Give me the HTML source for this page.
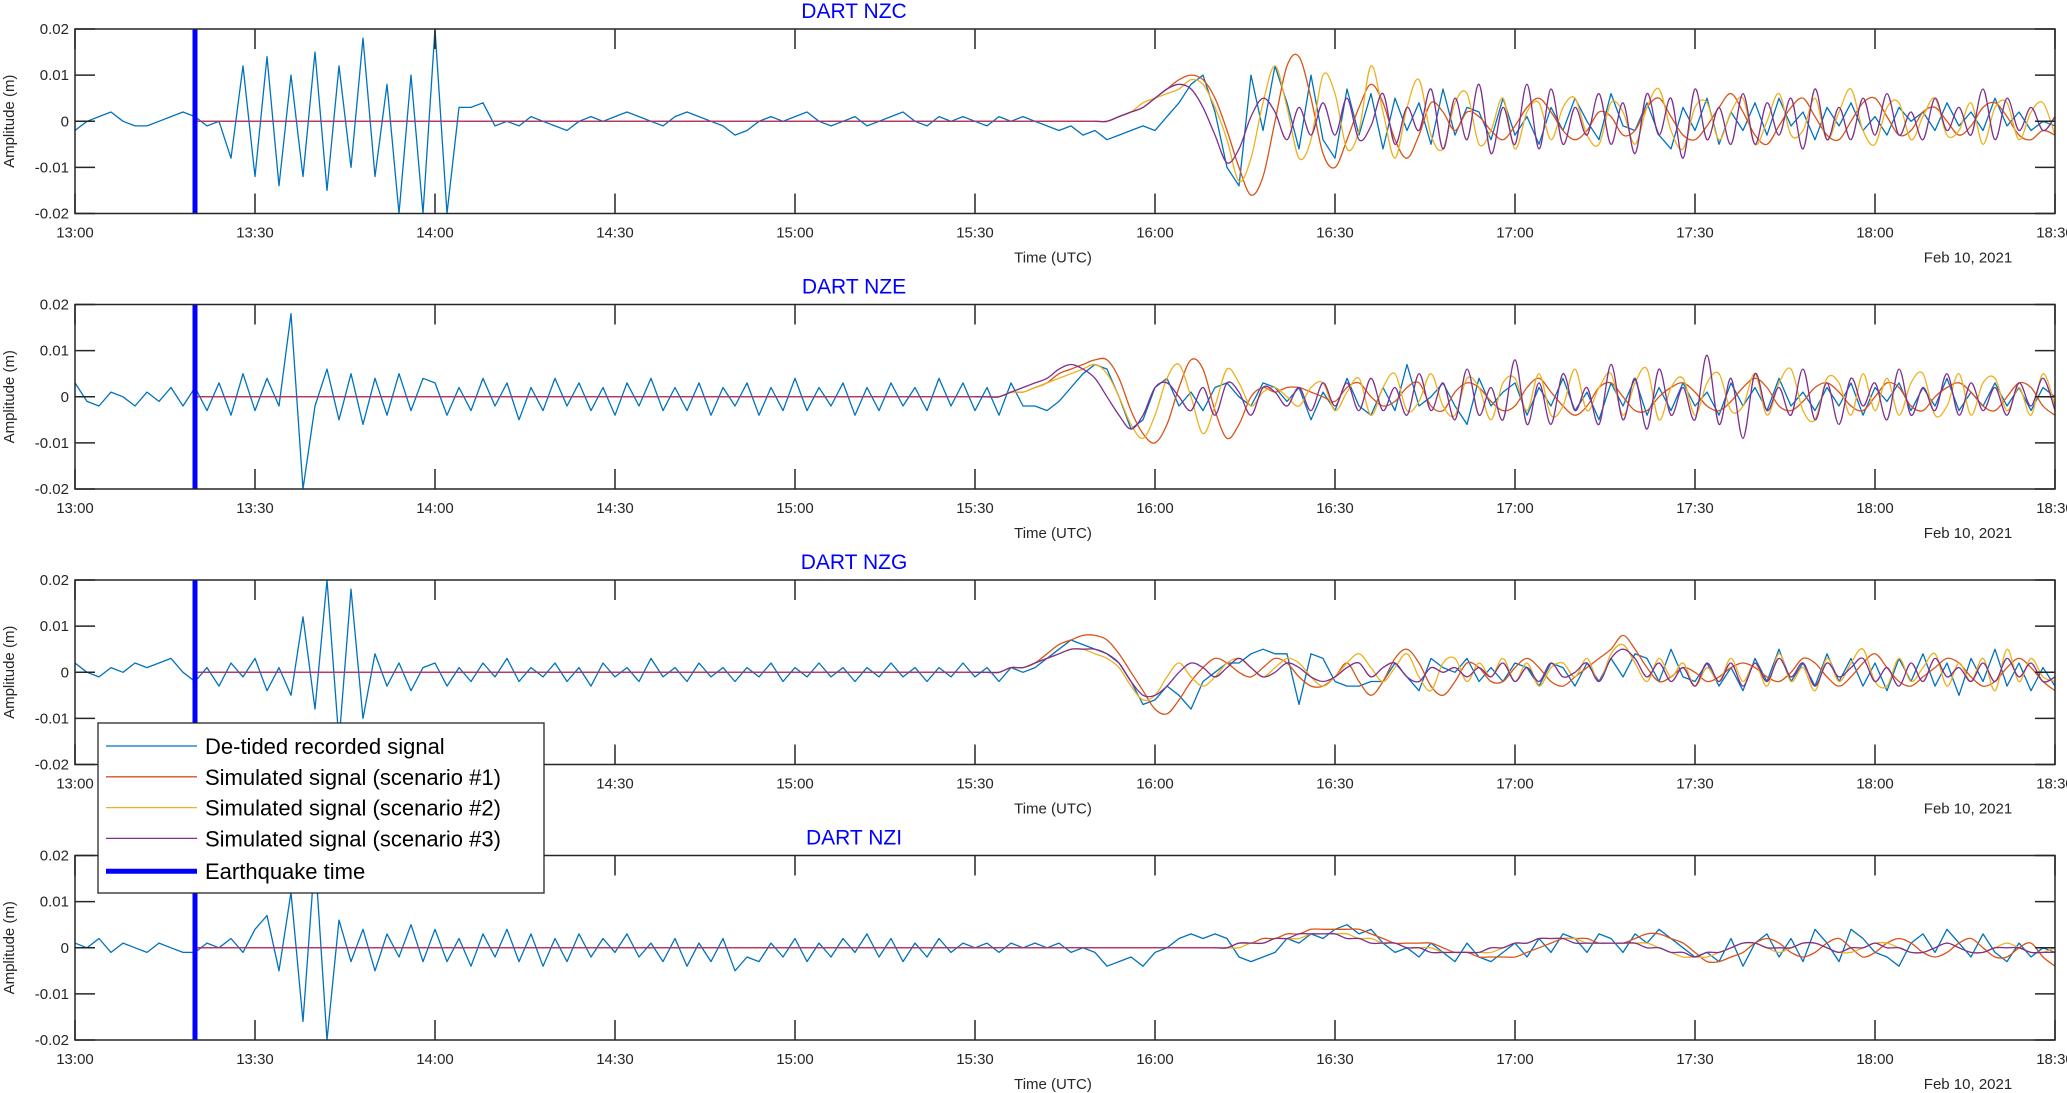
<!DOCTYPE html>
<html>
<head>
<meta charset="utf-8">
<style>
html,body{margin:0;padding:0;background:#fff;}
svg{display:block;font-family:"Liberation Sans",sans-serif;}
</style>
</head>
<body>
<svg id="fig" width="2067" height="1093" viewBox="0 0 2067 1093" xmlns="http://www.w3.org/2000/svg"></svg>
<script>
// ---- shared axis data ----
const xTickLabels = ["13:00","13:30","14:00","14:30","15:00","15:30","16:00","16:30","17:00","17:30","18:00","18:30"];
const yTickValues = [-0.02,-0.01,0,0.01,0.02];
const yTickLabels = ["-0.02","-0.01","0","0.01","0.02"];
const quakeMinute = 20; // 13:20 UTC
const stepMin = 2; // sample spacing, minutes
const stationNames = ["DART NZC","DART NZE","DART NZG","DART NZI"];

// ---- values in millimetres (x0.001 m), sampled every 2 min ----
// NZC
const nzcRec = [-2,0,1,2,0,-1,-1,0,1,2,
 1,-1,0,-8,12,-12,14,-14,10,-12,15,-15,12,-10,18,-12,8,-20,10,-20,
 20,-20,3,3,4,
 -1,0,-1,1,0,-1,-2,0,1,0,1,2,1,0,-1,1,2,1,0,-1,-3,-2,0,1,0,1,2,0,-1,0,1,-1,0,1,2,0,-1,1,0,1,0,-1,1,0,1,0,-1,-2,-1,-3,-2,-4,-3,-2,-1,
 -2,1,4,8,10,2,-10,-14,10,-2,12,4,-6,10,-4,-8,7,-3,6,-6,5,-2,4,-5,7,-3,3,2,-4,5,-3,1,-5,3,-2,5,0,-4,6,-1,-2,4,-3,-6,3,-2,5,-5,2,-2,4,-3,5,-1,2,-4,3,-1,4,-2,1,-3,3,0,2,-2,4,-1,2,-2,5,-1,2,-2,0,-1];
const nzcSimStart = 170;
const nzcSim1 = [0,0,1,2,3,5,7,9,10,9,5,-2,-10,-16,-12,0,12,14,5,-7,-10,-4,3,8,4,-4,-8,-3,4,2,-2,2,1,-2,-4,-1,3,5,2,-2,-4,-2,2,1,-3,-2,3,5,1,-3,-4,-1,3,6,2,-3,-5,-1,3,5,1,-3,-4,0,4,5,1,-3,-2,2,3,0,-3,-1,3,4,1,-3,-4,-2,-3];
const nzcSim2 = [0,0,1,2,4,5,6,7,9,8,3,-4,-13,-8,4,12,3,-8,-4,10,6,-6,-2,12,2,-8,3,9,-3,-6,4,6,-5,-2,5,-6,2,4,-4,3,5,-3,-5,4,2,-5,3,7,-2,-6,3,4,-4,2,5,-5,0,6,-3,-2,5,-4,2,7,-2,-5,3,4,-4,1,5,-3,-2,4,-5,3,4,-4,2,4,-3];
const nzcSim3 = [0,0,1,2,3,5,7,8,7,3,-3,-9,-6,1,5,2,-4,3,-3,4,-3,5,-4,-1,6,-5,3,-2,7,-6,5,-4,8,-7,3,-5,8,-6,7,-5,3,-3,6,-5,4,-7,6,-3,5,-8,7,-4,3,-5,6,-5,4,-3,5,-6,7,-4,3,-4,5,-3,6,-3,2,-4,5,-2,3,-3,7,-4,5,-2,3,-2,1];
// NZE
const nzeRec = [3,-1,-2,1,0,-2,1,-1,2,-2,
 2,-3,3,-4,5,-3,4,-2,18,-20,-2,6,-5,5,-6,4,-4,5,-3,4,
 3,-4,2,-3,4,-2,3,-5,2,-3,4,-2,3,-3,2,-4,3,-2,4,-3,2,-3,3,-4,2,-2,3,-4,2,-3,4,-3,2,-2,3,-4,2,-3,3,-2,2,-3,4,-2,3,-3,2,-4,3,-2,
 -2,-3,-1,2,5,7,6,0,-7,-5,2,4,-2,1,-3,2,3,0,-2,3,2,-1,2,-5,1,-3,4,-2,-4,2,-3,7,-2,0,3,-2,-6,4,-2,1,3,-4,2,-2,4,-3,1,-5,3,-2,4,-4,2,-3,3,-2,1,-4,3,-2,2,-3,4,-2,1,-3,2,-2,3,-4,2,-1,3,-3,2,-2,4,-3,1,-2,3,-2,2,-3,2,0];
const nzeSimStart = 150;
const nzeSim1 = [0,0,0,1,1,2,3,5,6,7,8,8,4,-3,-8,-10,-6,2,8,6,-3,-9,-6,0,2,1,2,2,1,0,-1,2,3,0,-2,-1,2,3,-2,-3,1,3,2,-1,-3,-2,2,4,1,-2,-4,-2,2,3,0,-3,-3,0,2,3,1,-2,-3,-1,2,4,2,-2,-3,-1,2,3,1,-2,-3,0,3,2,-2,-3,0,2,3,1,-2,-3,0,3,2,-2,-4];
const nzeSim2 = [0,0,0,1,1,2,3,4,5,6,7,5,0,-6,-9,-4,4,7,0,-8,-2,6,3,-2,1,2,0,-2,2,3,-3,1,4,-4,2,5,-3,-1,5,-2,-4,4,2,-5,3,4,-3,5,-4,-2,6,-3,2,5,-4,3,6,-5,2,4,-4,3,5,-3,-2,5,-4,3,6,-3,-5,4,3,-4,5,-3,4,-4,3,5,-4,-2,5,-4,3,4,-3,2,-4,5,-2];
const nzeSim3 = [0,0,0,1,2,3,4,6,7,6,4,0,-4,-7,-4,2,3,0,-3,2,-4,3,1,-4,2,1,-2,2,-3,3,-2,3,-3,4,-3,2,-4,5,-3,3,-5,6,-4,2,-5,8,-6,3,-6,5,-3,2,-6,7,-5,4,-7,6,-4,2,-5,9,-6,4,-9,5,-3,2,-4,6,-5,3,-6,4,-2,3,-5,6,-4,2,-3,5,-4,3,-3,2,-4,3,-2,4,-3];
// NZG
const nzgRec = [2,0,-1,1,0,2,1,2,3,0,
 -2,1,-3,2,-1,3,-4,1,-5,12,-8,20,-15,18,-10,4,-3,2,-4,1,
 2,-3,1,-2,2,-1,3,-2,1,-1,2,-2,1,-3,2,-1,1,-2,3,-1,1,-2,2,-1,1,-2,1,-1,2,-2,1,-1,2,-1,1,-2,1,-1,2,-1,1,-2,1,-1,2,-1,1,-2,1,0,
 1,3,5,7,6,5,4,2,-2,-7,-6,-3,-5,-8,-2,0,2,2,4,5,4,4,-7,4,3,-2,-3,-3,-2,-2,2,-1,-4,3,1,0,3,-2,1,-2,2,1,-3,2,1,-3,2,-2,3,-1,4,3,-2,5,-1,-2,2,-3,1,-4,3,-2,5,-2,2,-3,4,-2,3,-3,2,-4,3,-2,4,-3,2,-5,3,-2,5,-3,2,-4,1,-3];
const nzgSimStart = 150;
const nzgSim1 = [0,0,0,1,1,2,4,6,7,8,8,7,4,0,-4,-8,-9,-6,-2,1,3,2,0,-1,1,3,2,-1,-3,-3,-1,2,-2,-5,-2,3,5,2,-3,-5,-2,2,1,-2,-2,1,3,1,-2,-3,-1,1,3,5,8,5,1,-2,-1,1,0,-2,-1,1,2,1,-1,-2,0,3,2,-1,-3,-1,2,4,1,-2,-3,-1,1,3,2,-1,-3,-2,1,3,1,-2,-4];
const nzgSim2 = [0,0,0,1,1,2,3,4,5,5,4,3,1,-3,-6,-5,-1,2,-1,-3,-1,2,3,1,-1,1,3,2,-1,-3,-1,2,4,1,-2,1,4,-1,-4,2,3,-2,2,-1,3,-2,2,-3,1,2,-1,3,-2,4,6,2,-2,3,-1,2,-3,1,-2,3,-2,2,-3,4,-2,1,-4,3,-2,2,5,-2,-3,3,-2,1,4,-3,2,-2,3,-4,5,-2,3,-1,-2];
const nzgSim3 = [0,0,0,1,1,2,3,4,5,5,5,4,2,-2,-5,-5,-3,0,2,1,-1,1,3,1,-1,0,2,1,-1,-2,-1,1,2,-1,1,2,-1,-2,1,0,1,-1,1,-1,2,-2,1,-2,2,-1,0,2,-2,3,5,3,-1,2,-2,1,-3,2,-2,2,-3,2,-2,3,-1,2,-3,2,-1,1,3,-2,1,-3,2,-2,3,-1,1,-2,2,-2,3,-1,2,-2,-1];
// NZI
const nziRec = [1,0,2,-1,1,0,-1,1,0,-1,
 -1,1,0,2,-1,4,7,-5,12,-16,20,-20,6,-3,4,-5,3,-2,5,-3,
 4,-3,2,-4,3,-2,4,-3,3,-4,2,-3,3,-2,2,-1,3,-2,1,-3,2,-4,1,-3,2,-5,-2,-3,1,-2,2,-3,1,-2,2,-1,3,-2,2,-3,1,-2,2,-1,1,0,1,-1,1,0,
 1,0,1,-1,0,-1,-4,-3,-2,-4,-1,0,2,3,2,3,2,-2,-3,-2,-1,2,1,3,2,4,5,3,4,1,-1,0,-2,1,-1,-3,1,-2,-3,-1,1,-2,2,-1,3,2,-1,3,2,-1,3,1,4,2,0,-2,-1,-3,2,-4,1,3,-2,2,-3,4,1,-3,4,2,-1,-2,-4,1,3,-1,4,1,-2,3,-1,-3,1,-2,0,-1];
const nziSimStart = 190;
const nziSim1 = [0,0,1,1,2,2,3,3,4,4,4,4,4,3,2,1,1,1,1,0,-1,-1,-2,-2,-2,-2,-1,0,1,2,2,2,1,1,1,2,3,3,2,1,-1,-3,-3,-2,-1,1,2,1,-1,-2,-1,1,2,0,-2,-1,1,2,1,-1,-2,-1,1,2,0,-2,-2,0,1,-2,-4];
const nziSim2 = [0,0,0,1,1,2,2,2,3,3,3,3,2,2,1,1,0,0,0,-1,-1,-1,-1,-1,0,1,1,2,2,2,2,1,1,1,1,1,1,0,-1,-2,-2,-2,-1,0,1,1,0,-1,0,1,1,0,-1,-1,0,1,1,0,-1,-1,0,1,0,-1,-1,0,1,0,-1,-1,0];
const nziSim3 = [0,0,1,1,1,2,2,3,3,3,3,2,2,1,1,1,0,0,-1,-1,-1,-1,-1,0,0,1,1,2,2,2,1,1,1,1,1,1,0,0,-1,-1,-2,-1,-1,0,1,1,0,0,0,1,1,0,-1,0,0,1,0,0,-1,-1,0,1,0,-1,-1,0,0,0,-1,-1,-1];

const recSeries = [nzcRec, nzeRec, nzgRec, nziRec];
const sim1Series = [nzcSim1, nzeSim1, nzgSim1, nziSim1];
const sim2Series = [nzcSim2, nzeSim2, nzgSim2, nziSim2];
const sim3Series = [nzcSim3, nzeSim3, nzgSim3, nziSim3];
const simStarts = [nzcSimStart, nzeSimStart, nzgSimStart, nziSimStart];

// ---- layout ----
const NS = "http://www.w3.org/2000/svg";
const svg = document.getElementById("fig");
const L = 75, R = 2055, H = 184.5;
const tops = [29, 304.5, 580, 855.5];
const C = {rec:"#0072BD", s1:"#D95319", s2:"#EDB120", s3:"#7E2F8E", q:"#0000FF", ax:"#262626"};
function xs(min){ return L + (R-L)*min/330; }
function mk(tag, attrs, parent){ const e=document.createElementNS(NS,tag); for(const k in attrs) e.setAttribute(k,attrs[k]); (parent||svg).appendChild(e); return e; }
function txt(str, attrs, parent){ const e=mk("text",attrs,parent); e.textContent=str; return e; }
function linePath(vals, start, ys){ let d=""; vals.forEach((v,i)=>{ d+=(i?"L":"M")+xs(start+i*stepMin).toFixed(1)+","+ys(v/1000).toFixed(1); }); return d; }
function smoothPath(vals, start, ys){
  const p = vals.map((v,i)=>[xs(start+i*stepMin), ys(v/1000)]);
  let d = "M"+p[0][0].toFixed(1)+","+p[0][1].toFixed(1);
  for(let i=0;i<p.length-1;i++){
    const p0=p[Math.max(0,i-1)], p1=p[i], p2=p[i+1], p3=p[Math.min(p.length-1,i+2)];
    const c1=[p1[0]+(p2[0]-p0[0])/6, p1[1]+(p2[1]-p0[1])/6];
    const c2=[p2[0]-(p3[0]-p1[0])/6, p2[1]-(p3[1]-p1[1])/6];
    d+="C"+c1[0].toFixed(1)+","+c1[1].toFixed(1)+" "+c2[0].toFixed(1)+","+c2[1].toFixed(1)+" "+p2[0].toFixed(1)+","+p2[1].toFixed(1);
  }
  return d;
}

stationNames.forEach((name, k)=>{
  const T = tops[k], B = T + H;
  const ys = v => T + H/2 - v/0.02*(H/2);
  const g = mk("g", {});
  
  
  const cp = mk("clipPath", {id:"clip"+k}, g);
  mk("rect", {x:L, y:T, width:R-L, height:H}, cp);
  // title
  const t = txt(name, {x:854, y:T-11, "text-anchor":"middle", "font-size":21, fill:"#0000FF"}, g);
  
  
  // series
  const plot = mk("g", {"clip-path":"url(#clip"+k+")"}, g);
  const pad = v => v;
  const simStart = simStarts[k];
  // zero segments for simulations before their start
  const z = mk("path", {d:"M"+xs(quakeMinute)+","+ys(0)+"L"+xs(simStart)+","+ys(0), stroke:C.s1, "stroke-width":1.3, fill:"none"}, plot);
  
  
  const rec = mk("path", {d:linePath(recSeries[k],0,ys), stroke:C.rec, "stroke-width":1.3, fill:"none", "stroke-linejoin":"round"}, plot);
  
  
  const z2 = mk("path", {d:"M"+xs(quakeMinute)+","+ys(0)+"L"+xs(simStart)+","+ys(0), stroke:"#B0306A", "stroke-width":1.3, fill:"none"}, plot);
  
  
  const a = mk("path", {d:smoothPath(sim1Series[k],simStart,ys), stroke:C.s1, "stroke-width":1.3, fill:"none"}, plot);
  
  
  const b = mk("path", {d:smoothPath(sim2Series[k],simStart,ys), stroke:C.s2, "stroke-width":1.3, fill:"none"}, plot);
  
  
  const c = mk("path", {d:smoothPath(sim3Series[k],simStart,ys), stroke:C.s3, "stroke-width":1.3, fill:"none"}, plot);
  
  
  const q = mk("line", {x1:xs(quakeMinute), x2:xs(quakeMinute), y1:T, y2:B, stroke:C.q, "stroke-width":5}, g);
  
  
  // axes box
  const box = mk("rect", {x:L, y:T, width:R-L, height:H, fill:"none", stroke:C.ax, "stroke-width":1.5}, g);
  
  
  // x ticks
  xTickLabels.forEach((lab,i)=>{
    const x = xs(i*30);
    mk("line",{x1:x,x2:x,y1:T,y2:T+20,stroke:C.ax,"stroke-width":1.5},g);
    mk("line",{x1:x,x2:x,y1:B,y2:B-20,stroke:C.ax,"stroke-width":1.5},g);
    const tl = txt(lab,{x:x, y:B+24, "text-anchor":"middle","font-size":15, fill:"#262626"},g);
    
    
  });
  // y ticks
  yTickValues.forEach((v,i)=>{
    const y = ys(v);
    mk("line",{x1:L,x2:L+20,y1:y,y2:y,stroke:C.ax,"stroke-width":1.5},g);
    mk("line",{x1:R,x2:R-20,y1:y,y2:y,stroke:C.ax,"stroke-width":1.5},g);
    const yl = txt(yTickLabels[i],{x:L-6, y:y+5, "text-anchor":"end","font-size":15, fill:"#262626"},g);
    
    
  });
  const yt = txt("Amplitude (m)",{x:0,y:0,"text-anchor":"middle","font-size":15,fill:"#262626",transform:"translate(14,"+(T+H/2)+") rotate(-90)"},g);
  
  
  const xt = txt("Time (UTC)",{x:1053,y:B+49,"text-anchor":"middle","font-size":15,fill:"#262626"},g);
  
  
  const dt = txt("Feb 10, 2021",{x:1968,y:B+49,"text-anchor":"middle","font-size":15,fill:"#262626"},g);
  
  
});

// ---- legend ----
const legendLabels = ["De-tided recorded signal","Simulated signal (scenario #1)","Simulated signal (scenario #2)","Simulated signal (scenario #3)","Earthquake time"];
const legendColors = [C.rec, C.s1, C.s2, C.s3, C.q];
const lg = mk("g",{});


mk("rect",{x:98,y:723,width:446,height:170,fill:"#fff",stroke:C.ax,"stroke-width":1.3},lg);
legendLabels.forEach((lab,i)=>{
  const y = 746 + i*30.8 + (i===4?2:0);
  const ln = mk("line",{x1:106,x2:197,y1:y,y2:y,stroke:legendColors[i],"stroke-width":i===4?5:1.3},lg);
  
  
  const t = txt(lab,{x:205,y:y+8,"font-size":22,fill:"#000"},lg);
  
  
});
</script>
</body>
</html>
